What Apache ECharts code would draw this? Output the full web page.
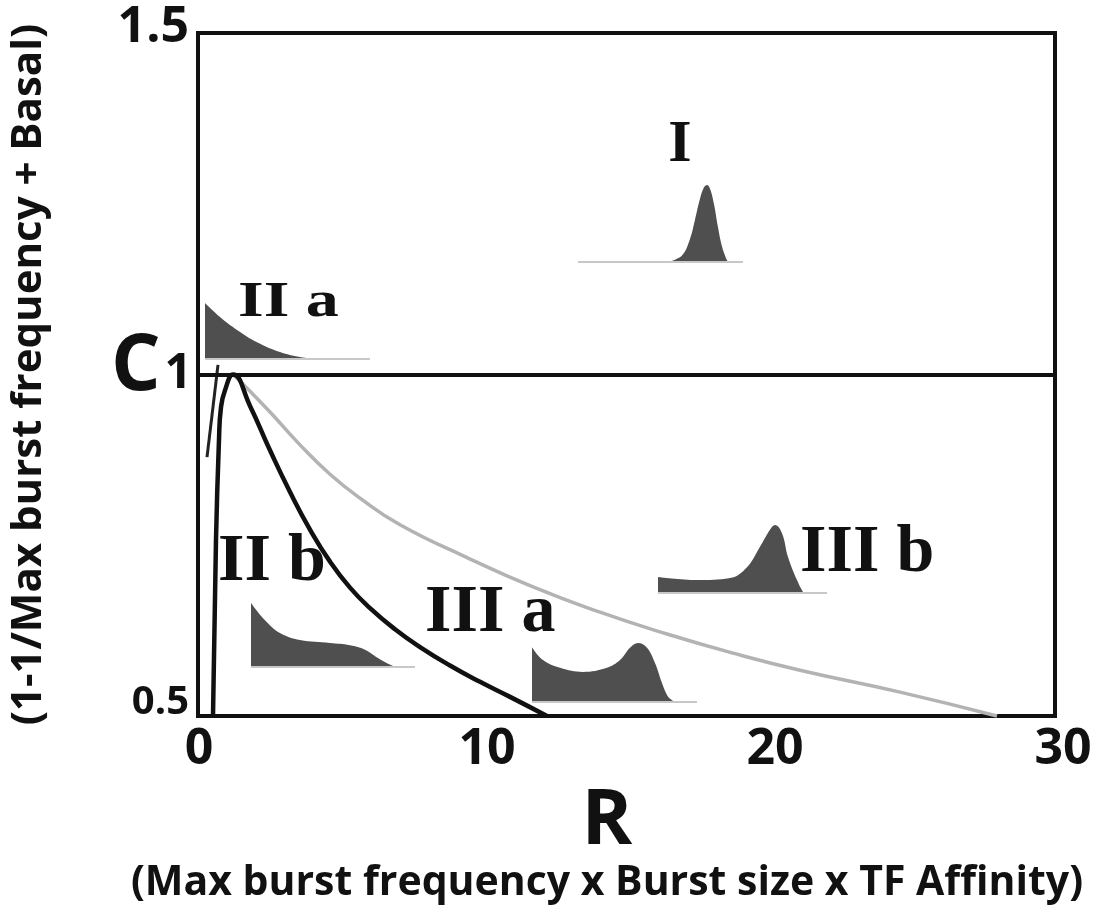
<!DOCTYPE html>
<html><head><meta charset="utf-8">
<script src="https://cdn.jsdelivr.net/npm/echarts@6/dist/echarts.min.js"></script>
<style>html,body{margin:0;padding:0;background:#fff}#c{width:1104px;height:915px}</style>
</head><body><div id="c"></div>
<script>
// ---- axis ticks ----
const xTickValues = [0, 10, 20, 30];
const yTickValues = [0.5, 1, 1.5];
const yTickText = ['0.5', '1', '1.5'];

// ---- main curves (R, C) ----
const blackR = [0.486, 0.590, 0.694, 0.764, 0.903, 1.181, 1.771, 2.465, 3.160, 3.854, 4.549, 5.243, 5.938, 6.806, 7.674, 8.715, 9.757, 10.799, 12.083];
const blackC = [0.500, 0.758, 0.904, 0.952, 0.977, 1.000, 0.954, 0.889, 0.828, 0.773, 0.726, 0.688, 0.658, 0.627, 0.601, 0.574, 0.550, 0.528, 0.500];
const grayR = [1.181, 1.667, 2.465, 3.507, 4.549, 5.590, 6.979, 9.306, 11.597, 13.924, 16.250, 18.542, 20.868, 24.340, 27.708];
const grayC = [1.000, 0.980, 0.945, 0.897, 0.854, 0.819, 0.780, 0.732, 0.689, 0.652, 0.620, 0.592, 0.567, 0.535, 0.500];
const stubR = [0.278, 0.660];
const stubC = [0.879, 1.014];

// ---- inset distribution shapes (local x, relative height) ----
const insetI_x = [89, 97, 105, 112, 117, 122, 126, 129, 132, 136, 140, 144, 148, 150];
const insetI_h = [0, 0.03, 0.1, 0.3, 0.55, 0.82, 0.97, 1.0, 0.95, 0.75, 0.45, 0.2, 0.05, 0];
const insetIIa_x = [0, 15, 32, 52, 75, 95, 110];
const insetIIa_h = [1.0, 0.75, 0.52, 0.30, 0.125, 0.036, 0];
const insetIIb_x = [0, 14, 29, 49, 79, 99, 114, 127, 137, 145];
const insetIIb_h = [1.0, 0.73, 0.53, 0.42, 0.375, 0.34, 0.27, 0.14, 0.05, 0];
const insetIIIa_x = [0, 11, 28, 51, 75, 88, 98, 106, 115, 123, 130, 135, 140, 144];
const insetIIIa_h = [0.93, 0.71, 0.58, 0.51, 0.58, 0.71, 0.92, 1.0, 0.92, 0.66, 0.32, 0.12, 0.03, 0];
const insetIIIb_x = [0, 39, 72, 89, 102, 112, 117, 124, 130, 139, 145, 147];
const insetIIIb_h = [0.235, 0.19, 0.22, 0.38, 0.68, 0.93, 1.0, 0.88, 0.53, 0.19, 0.015, 0];

// ---- texts ----
const yAxisTitle = '(1-1/Max burst frequency + Basal)';
const xAxisLetter = 'R';
const xAxisTitle = '(Max burst frequency x Burst size x TF Affinity)';
const yAxisLetter = 'C';

const SANS = '"Open Sans", "Noto Sans", sans-serif';
const SERIF = '"Liberation Serif", "DejaVu Serif", serif';
const zip = (a, b) => a.map((v, i) => [v, b[i]]);

const insets = [
  { x: insetI_x, h: insetI_h, left: 578, top: 185, width: 165, height: 77 },
  { x: insetIIa_x, h: insetIIa_h, left: 205, top: 303, width: 165, height: 56 },
  { x: insetIIb_x, h: insetIIb_h, left: 251, top: 603, width: 164, height: 64 },
  { x: insetIIIa_x, h: insetIIIa_h, left: 532, top: 643, width: 165, height: 59 },
  { x: insetIIIb_x, h: insetIIIb_h, left: 658, top: 525, width: 169, height: 68 }
];

const grids = [
  { left: 197, right: 49, top: 33, bottom: 199, show: true, borderColor: '#111', borderWidth: 4, backgroundColor: 'rgba(0,0,0,0)' },
  { left: 199, right: 41, top: 33, bottom: 199 }
];
const xAxes = [
  { gridIndex: 0, type: 'value', min: 0, max: 1, show: false },
  { gridIndex: 1, type: 'value', min: 0, max: 30, interval: 10,
    axisLine: { show: false }, axisTick: { show: false }, splitLine: { show: false },
    axisLabel: { fontFamily: SANS, fontWeight: 'bold', fontSize: 50, color: '#111', margin: 9,
      formatter: v => xTickValues.includes(v) ? String(v) : '' } }
];
const labelStyle = { fontFamily: SANS, fontWeight: 'bold', color: '#111' };
const yAxes = [
  { gridIndex: 0, type: 'value', min: 0.5, max: 1.5, interval: 0.5,
    axisLine: { show: false }, axisTick: { show: false }, splitLine: { show: false },
    axisLabel: { margin: 6,
      formatter: v => {
        const i = yTickValues.findIndex(t => Math.abs(t - v) < 1e-9);
        if (i < 0) return '';
        return '{' + ['c', 'b', 'a'][i] + '|' + yTickText[i] + '}';
      },
      rich: {
        a: Object.assign({ fontSize: 50, padding: [0, 3, 10, 0] }, labelStyle),
        b: Object.assign({ fontSize: 48, padding: [0, 0, 0, 0] }, labelStyle),
        c: Object.assign({ fontSize: 40, padding: [0, 3, 26, 0] }, labelStyle)
      } },
    name: yAxisTitle, nameLocation: 'middle', nameRotate: 90, nameGap: 148,
    nameTextStyle: { fontFamily: SANS, fontWeight: 'bold', fontSize: 42, color: '#111' } },
  { gridIndex: 1, type: 'value', min: 0.5, max: 1.5, show: false }
];

const series = [
  { type: 'line', xAxisIndex: 0, yAxisIndex: 0, data: [], silent: true,
    markLine: { silent: true, symbol: ['none', 'none'], label: { show: false },
      lineStyle: { color: '#111', width: 4, type: 'solid' }, data: [{ yAxis: 1 }] } },
  { type: 'line', xAxisIndex: 1, yAxisIndex: 1, data: zip(grayR, grayC), smooth: 0.5,
    showSymbol: false, lineStyle: { color: '#b3b3b3', width: 3.5 }, clip: false },
  { type: 'line', xAxisIndex: 1, yAxisIndex: 1, data: zip(stubR, stubC),
    showSymbol: false, lineStyle: { color: '#222', width: 3 }, clip: false },
  { type: 'line', xAxisIndex: 1, yAxisIndex: 1, data: zip(blackR, blackC), smooth: 0.5,
    showSymbol: false, lineStyle: { color: '#111', width: 4.5 }, clip: false }
];

insets.forEach((ins, k) => {
  const gi = grids.length;
  grids.push({ left: ins.left, top: ins.top, width: ins.width, height: ins.height });
  xAxes.push({ gridIndex: gi, type: 'value', min: 0, max: ins.width, show: false });
  yAxes.push({ gridIndex: gi, type: 'value', min: 0, max: 1, show: false });
  const ai = xAxes.length - 1;
  series.push({ type: 'line', xAxisIndex: ai, yAxisIndex: ai, data: [[0, 0], [ins.width, 0]],
    showSymbol: false, clip: false, lineStyle: { color: '#c8c8c8', width: 2 } });
  series.push({ type: 'line', xAxisIndex: ai, yAxisIndex: ai, data: zip(ins.x, ins.h),
    smooth: 0.4, showSymbol: false, clip: true,
    lineStyle: { width: 0, color: '#4f4f4f' }, areaStyle: { color: '#4f4f4f', opacity: 1 } });
});

const txt = (x, y, text, font, align, extra) => Object.assign({
  type: 'text', x: x, y: y, z: 100,
  style: { text: text, font: font, fill: '#111', align: align, verticalAlign: 'middle',
    textAlign: align, textVerticalAlign: 'middle' }
}, extra || {});

const graphic = [
  txt(111, 368, yAxisLetter, 'bold 78px ' + SANS, 'left'),
  txt(607, 822, xAxisLetter, 'bold 77px ' + SANS, 'center'),
  txt(607, 883, xAxisTitle, 'bold 41px ' + SANS, 'center'),
  txt(680, 145, 'I', 'bold 60px ' + SERIF, 'center'),
  txt(238, 303, 'II a', 'bold 66px ' + SERIF, 'left', { scaleY: 0.755 }),
  txt(218, 562, 'II b', 'bold 68px ' + SERIF, 'left'),
  txt(425, 613, 'III a', 'bold 68px ' + SERIF, 'left'),
  txt(800, 553, 'III b', 'bold 68px ' + SERIF, 'left')
];

const chart = echarts.init(document.getElementById('c'), null, { renderer: 'canvas' });
chart.setOption({
  animation: false,
  backgroundColor: '#fff',
  grid: grids, xAxis: xAxes, yAxis: yAxes, series: series, graphic: graphic
});
</script>
</body></html>
